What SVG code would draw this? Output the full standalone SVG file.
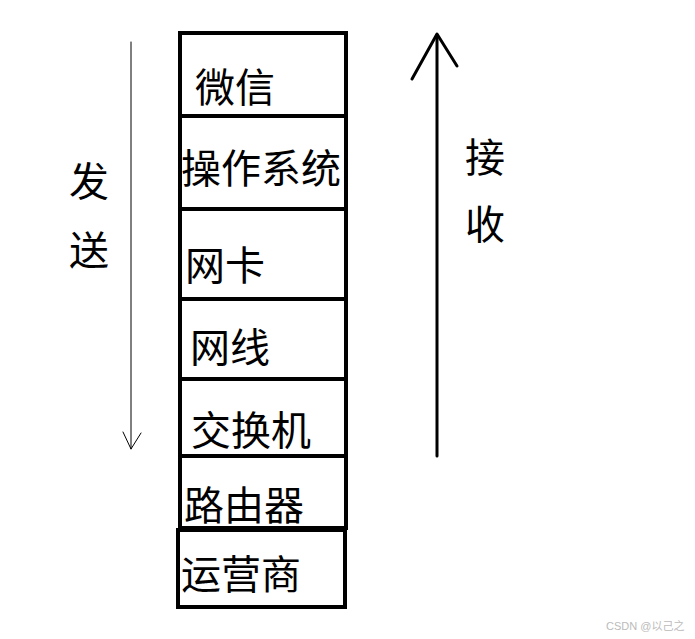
<svg xmlns="http://www.w3.org/2000/svg" width="695" height="639" viewBox="0 0 695 639">
<style>
.box{fill:none;stroke:#000;stroke-width:4}
.t{font-family:"Noto Sans CJK SC","Noto Sans CJK JP",sans-serif;font-size:40px;fill:#000}
.wm{font-family:"Liberation Sans","Noto Sans CJK SC",sans-serif;font-size:11px;fill:#bbb}
</style>
<rect width="695" height="639" fill="#fff"/>
<g id="stack">
<g id="n-weixin"><rect class="box" x="180" y="33" width="166" height="83"/><text class="t" x="195" y="102">微信</text></g>
<g id="n-os"><rect class="box" x="180" y="116" width="166" height="93"/><text class="t" x="181" y="183">操作系统</text></g>
<g id="n-nic"><rect class="box" x="180" y="209" width="166" height="90"/><text class="t" x="185" y="280">网卡</text></g>
<g id="n-cable"><rect class="box" x="180" y="299" width="166" height="80"/><text class="t" x="190" y="362">网线</text></g>
<g id="n-switch"><rect class="box" x="180" y="379" width="166" height="77"/><text class="t" x="191" y="445">交换机</text></g>
<g id="n-router"><rect class="box" x="180" y="456" width="166" height="72"/><text class="t" x="184" y="520">路由器</text></g>
<g id="n-isp"><rect class="box" x="178" y="530" width="167" height="77"/><text class="t" x="181" y="589">运营商</text></g>
</g>
<g id="connectors" fill="none" stroke="#000" stroke-linecap="round" stroke-linejoin="round">
<path d="M131 42 V449" stroke-width="1"/>
<path d="M123 432 L131 449 L141 433" stroke-width="1"/>
<path d="M437 35 V456" stroke-width="3"/>
<path d="M412 79 L437 34 L457 66" stroke-width="3"/>
</g>
<g id="labels">
<text class="t" x="69" y="196">发</text>
<text class="t" x="69" y="265">送</text>
<text class="t" x="465" y="172">接</text>
<text class="t" x="465" y="239">收</text>
</g>
<text class="wm" x="606" y="630">CSDN @以己之</text>
</svg>
